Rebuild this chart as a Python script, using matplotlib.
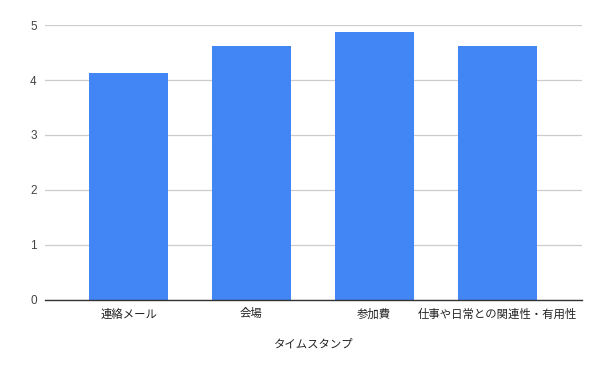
import matplotlib
matplotlib.use("Agg")
import matplotlib.pyplot as plt

categories = ["連絡メール", "会場", "参加費", "仕事や日常との関連性・有用性"]
scores = [4.125, 4.625, 4.875, 4.625]
y_ticks = [0, 1, 2, 3, 4, 5]

plt.rcParams['font.family'] = ['Liberation Sans', 'Noto Sans CJK JP', 'DejaVu Sans']

fig = plt.figure(figsize=(6, 3.71), dpi=100)
ax = fig.add_axes([0.075, 0.1914, 0.895, 0.7412])

xs = list(range(len(categories)))
ax.bar(xs, scores, width=0.64, color="#4285F4", zorder=3)

ax.set_xlim(-0.68, 3.69)
ax.set_ylim(0, 5)
ax.set_yticks(y_ticks)
ax.set_xticks(xs)
ax.set_xticklabels(categories, fontsize=8.2, color="#222222")
ax.tick_params(axis="y", length=0, labelsize=8.5, labelcolor="#444444", pad=6)
ax.tick_params(axis="x", length=0, pad=6)
ax.grid(axis="y", color="#cccccc", linewidth=0.9, zorder=0)

for side in ["top", "right", "left"]:
    ax.spines[side].set_visible(False)
ax.spines["bottom"].set_color("#333333")
ax.spines["bottom"].set_linewidth(1)
ax.spines["bottom"].set_zorder(4)

ax.set_xlabel("タイムスタンプ", fontsize=8.2, color="#222222", labelpad=14)

fig.savefig("out.png", dpi=100)
